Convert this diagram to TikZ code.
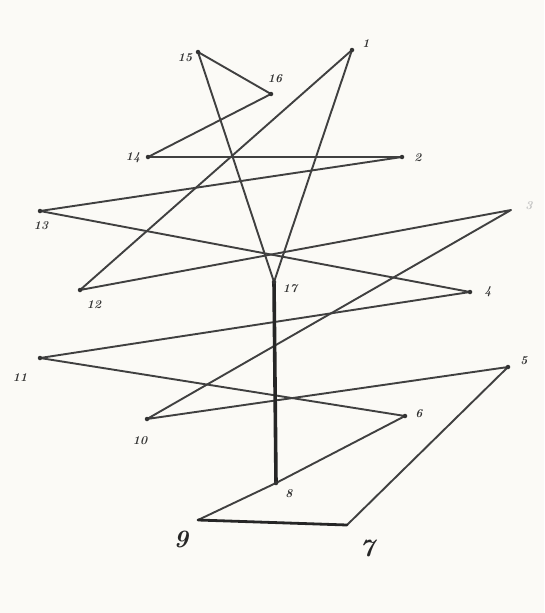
\documentclass[tikz,border=0pt]{standalone}
\begin{document}
\begin{tikzpicture}[x=1pt,y=-1pt,
  edge/.style={draw=black!75,line width=1.9pt,line cap=round,line join=round},
  thick edge/.style={draw=black!85,line width=3.6pt,line cap=round},
  dot/.style={fill=black!80,circle,inner sep=0pt,minimum size=4.5pt},
  lab/.style={font=\itshape\bfseries\large,text=black!80,inner sep=0pt},
  biglab/.style={font=\itshape\bfseries\Huge,text=black!85,inner sep=0pt}]
\definecolor{paper}{RGB}{251,250,246}
\fill[paper] (0,0) rectangle (544,613);
\useasboundingbox (0,0) rectangle (544,613);
% vertices
\coordinate (v1) at (352,50);
\coordinate (v2) at (402,157);
\coordinate (v3) at (511,210);
\coordinate (v4) at (470,292);
\coordinate (v5) at (508,367);
\coordinate (v6) at (405,416);
\coordinate (v7) at (347,525);
\coordinate (v8) at (276,483);
\coordinate (v9) at (198,520);
\coordinate (v10) at (147,419);
\coordinate (v11) at (40,358);
\coordinate (v12) at (80,290);
\coordinate (v13) at (40,211);
\coordinate (v14) at (148,157);
\coordinate (v15) at (198,52);
\coordinate (v16) at (271,94);
\coordinate (v17) at (274,282);
% edges
\draw[edge] (v1) -- (v12) -- (v3) -- (v10) -- (v5) -- (v7);
\draw[edge] (v9) -- (v8) -- (v6) -- (v11) -- (v4) -- (v13) -- (v2) -- (v14) -- (v16) -- (v15) -- (v17) -- (v1);
\draw[edge,line width=2.8pt,draw=black!85] (v7) -- (v9);
\draw[thick edge] (v17) -- (v8);
\foreach \v in {1,2,4,5,6,8,10,11,12,13,14,15,16,17}{\node[dot] at (v\v) {};}
% labels
\node[lab] (l1) at (366,44) {1};
\node[lab] (l2) at (418,158) {2};
\node[lab,text=black!25] (l3) at (529,206) {3};
\node[lab] (l4) at (488,292) {4};
\node[lab] (l5) at (524,361) {5};
\node[lab] (l6) at (419,414) {6};
\node[biglab] (l7) at (367,548) {7};
\node[lab] (l8) at (289,494) {8};
\node[biglab] (l9) at (181,539) {9};
\node[lab] (l10) at (140,441) {10};
\node[lab] (l11) at (20,378) {11};
\node[lab] (l12) at (94,305) {12};
\node[lab] (l13) at (41,226) {13};
\node[lab] (l14) at (133,158) {14};
\node[lab] (l15) at (185,58) {15};
\node[lab] (l16) at (275,79) {16};
\node[lab] (l17) at (290,289) {17};
\end{tikzpicture}
\end{document}
